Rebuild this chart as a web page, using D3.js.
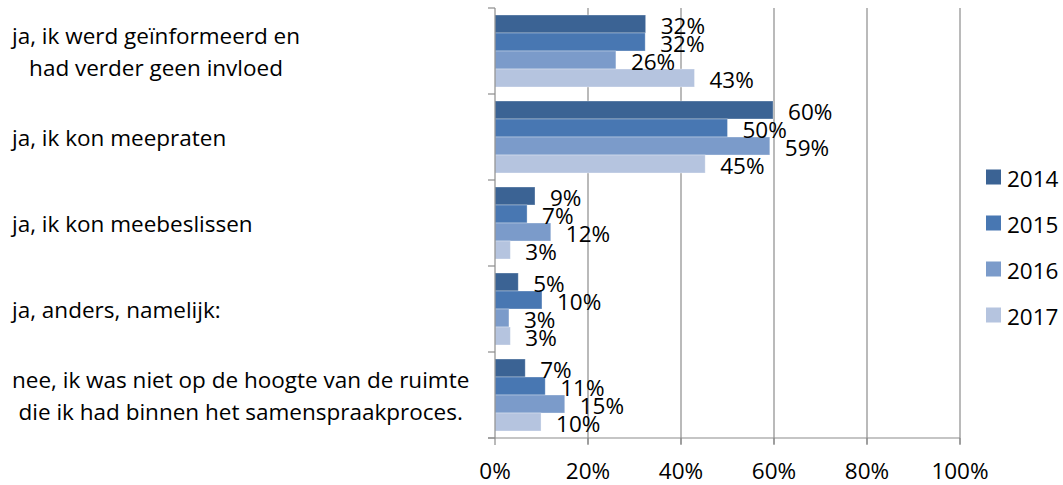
<!DOCTYPE html>
<meta charset="utf-8">
<html>
<head>
  <style>
    body { margin: 0; background: #fff; }
    text { font-family: "Open Sans", sans-serif; fill: #000; }
    .cat { font-size: 22.5px; }
    .val { font-size: 22.5px; }
    .tick { font-size: 22.5px; }
    .leg { font-size: 22.5px; }
  </style>
</head>
<body>
<svg width="1063" height="485"></svg>

<script src="https://d3js.org/d3.v7.min.js"></script>
<script>

// Data
const categories = [
  ["ja, ik werd geïnformeerd en", "had verder geen invloed"],
  ["ja, ik kon meepraten"],
  ["ja, ik kon meebeslissen"],
  ["ja, anders, namelijk:"],
  ["nee, ik was niet op de hoogte van de ruimte", "die ik had binnen het samenspraakproces."]
];
const years = ["2014", "2015", "2016", "2017"];
const v2014 = [32.4, 59.8, 8.6, 5.0, 6.5];
const v2015 = [32.3, 50.0, 6.9, 10.1, 10.8];
const v2016 = [26.0, 59.1, 12.0, 3.0, 15.0];
const v2017 = [42.9, 45.2, 3.3, 3.3, 9.9];
const xTicks = [0, 20, 40, 60, 80, 100];
const colors = ["#3b6394", "#4877b2", "#7b9bca", "#b5c4df"];

const series = [v2014, v2015, v2016, v2017];

const svg = d3.select("svg");

const plotL = 495, plotR = 960, plotT = 8, plotB = 438;

const x = d3.scaleLinear().domain([0, 100]).range([plotL, plotR]);
const y = d3.scaleBand().domain(d3.range(categories.length)).range([plotT, plotB]).paddingInner(0).paddingOuter(0);
const inner = d3.scaleBand().domain(d3.range(years.length)).range([7, y.bandwidth() - 7]);

// gridlines
svg.append("g")
  .selectAll("line")
  .data(xTicks.slice(1))
  .join("line")
  .attr("x1", d => x(d)).attr("x2", d => x(d))
  .attr("y1", plotT).attr("y2", plotB + 6)
  .attr("stroke", "#8c8c8c").attr("stroke-width", 1.2);

// bars
const groups = svg.append("g")
  .selectAll("g")
  .data(categories)
  .join("g")
  .attr("transform", (d, i) => `translate(0,${y(i)})`);

groups.each(function(c, ci) {
  const g = d3.select(this);
  const rows = series.map((s, si) => ({ v: s[ci], si }));
  g.selectAll("rect")
    .data(rows)
    .join("rect")
    .attr("x", x(0))
    .attr("y", d => inner(d.si))
    .attr("width", d => x(d.v) - x(0))
    .attr("height", inner.bandwidth())
    .attr("fill", d => colors[d.si])
    .attr("stroke", "#ffffff")
    .attr("stroke-opacity", 0.4)
    .attr("stroke-width", 0.8);
  g.selectAll("text.val")
    .data(rows)
    .join("text")
    .attr("class", "val")
    .attr("x", d => x(d.v) + 15)
    .attr("y", d => inner(d.si) + inner.bandwidth() / 2 + 1)
    .attr("dominant-baseline", "central")
    .text(d => Math.round(d.v) + "%");
});

// left axis line + ticks
svg.append("line")
  .attr("x1", plotL).attr("x2", plotL).attr("y1", plotT).attr("y2", plotB)
  .attr("stroke", "#8c8c8c").attr("stroke-width", 1.2);
svg.append("g")
  .selectAll("line")
  .data(d3.range(categories.length + 1))
  .join("line")
  .attr("x1", plotL - 7).attr("x2", plotL)
  .attr("y1", d => plotT + d * y.bandwidth()).attr("y2", d => plotT + d * y.bandwidth())
  .attr("stroke", "#8c8c8c").attr("stroke-width", 1.2);

// bottom axis
svg.append("line")
  .attr("x1", plotL - 7).attr("x2", plotR).attr("y1", plotB).attr("y2", plotB)
  .attr("stroke", "#8c8c8c").attr("stroke-width", 1.2);
svg.append("g")
  .selectAll("line")
  .data(xTicks)
  .join("line")
  .attr("x1", d => x(d)).attr("x2", d => x(d))
  .attr("y1", plotB).attr("y2", plotB + 7)
  .attr("stroke", "#8c8c8c").attr("stroke-width", 1.2);
svg.append("g")
  .selectAll("text")
  .data(xTicks)
  .join("text")
  .attr("class", "tick")
  .attr("x", d => x(d))
  .attr("y", 470)
  .attr("text-anchor", "middle")
  .attr("dominant-baseline", "central")
  .text(d => d + "%");

// category labels: lines centred within a block that starts near the left edge
const catG = svg.append("g");
categories.forEach((lines, i) => {
  const t = catG.append("text").attr("class", "cat");
  const lh = 32;
  const cy = y(i) + y.bandwidth() / 2;
  const tsp = t.selectAll("tspan")
    .data(lines)
    .join("tspan")
    .attr("y", (d, k) => cy + (k - (lines.length - 1) / 2) * lh)
    .attr("dominant-baseline", "central")
    .text(d => d);
  let maxW = 0;
  tsp.each(function() { maxW = Math.max(maxW, this.getComputedTextLength()); });
  tsp.attr("x", 12 + maxW / 2).attr("text-anchor", "middle");
});

// legend
const leg = svg.append("g")
  .selectAll("g")
  .data(years)
  .join("g")
  .attr("transform", (d, i) => `translate(986,${177 + i * 46})`);
leg.append("rect")
  .attr("x", 0).attr("y", -7.5).attr("width", 15).attr("height", 15)
  .attr("fill", (d, i) => colors[i]);
leg.append("text")
  .attr("class", "leg")
  .attr("x", 21)
  .attr("y", 1)
  .attr("dominant-baseline", "central")
  .text(d => d);

</script>
</body>
</html>
